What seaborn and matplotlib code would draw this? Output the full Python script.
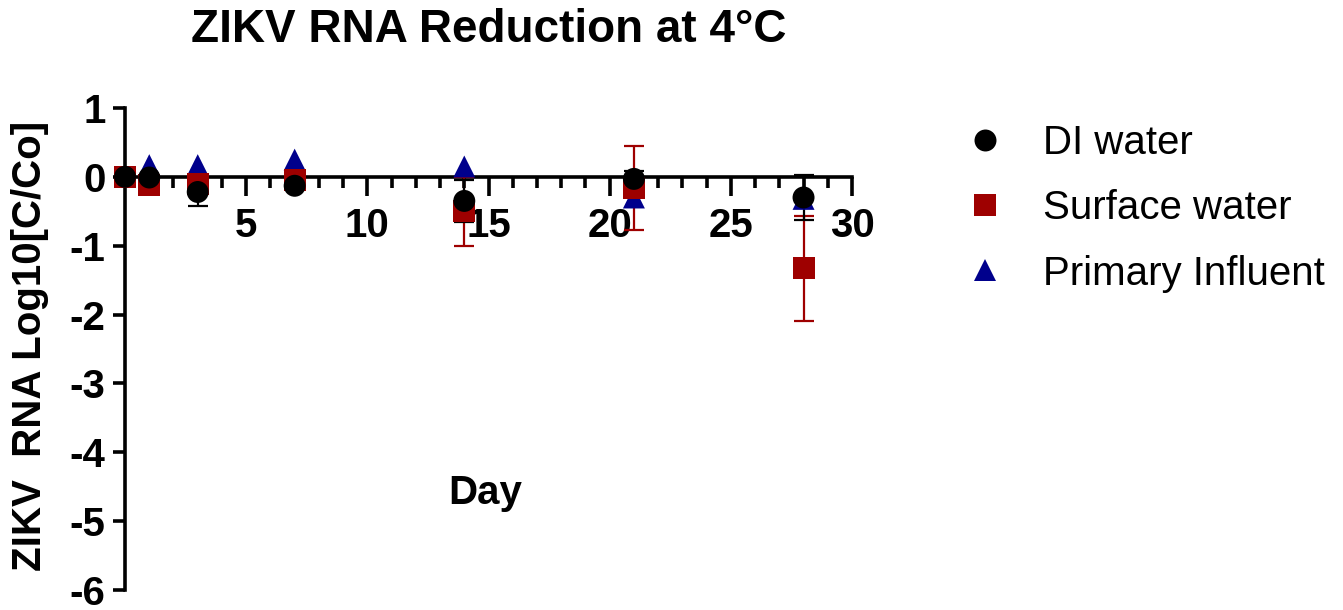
import matplotlib
matplotlib.use("Agg")
import matplotlib.pyplot as plt
import seaborn as sns
import pandas as pd

# ---- data ----
days = [0, 1, 3, 7, 14, 21, 28]
series_names = ["DI water", "Surface water", "Primary Influent"]

di_water = [0.0, -0.01, -0.22, -0.13, -0.35, -0.03, -0.30]
di_water_err = [0.0, 0.03, 0.20, 0.05, 0.30, 0.12, 0.33]

surface_water = [0.0, -0.12, -0.10, -0.05, -0.50, -0.16, -1.33]
surface_water_err = [0.0, 0.03, 0.05, 0.05, 0.50, 0.61, 0.76]

primary_influent = [0.0, 0.17, 0.17, 0.25, 0.15, -0.30, -0.32]
primary_influent_err = [0.0, 0.0, 0.0, 0.0, 0.0, 0.0, 0.0]

x_major_ticks = [5, 10, 15, 20, 25, 30]
y_ticks = [1, 0, -1, -2, -3, -4, -5, -6]

title = "ZIKV RNA Reduction at 4°C"
x_label = "Day"
y_label = "ZIKV  RNA Log10[C/Co]"

colors = {"DI water": "#000000", "Surface water": "#9E0000", "Primary Influent": "#00008C"}
markers = {"DI water": "o", "Surface water": "s", "Primary Influent": "^"}

# ---- styling ----
sns.set_style("ticks")
plt.rcParams["font.family"] = ["Liberation Sans", "DejaVu Sans"]
plt.rcParams["axes.unicode_minus"] = False
for key in ["text.color", "axes.labelcolor", "xtick.color", "ytick.color", "axes.edgecolor"]:
    plt.rcParams[key] = "black"

values = {"DI water": (di_water, di_water_err),
          "Surface water": (surface_water, surface_water_err),
          "Primary Influent": (primary_influent, primary_influent_err)}

# draw order: triangles below squares below circles
draw_order = ["Primary Influent", "Surface water", "DI water"]
rows = []
for name in draw_order:
    v, e = values[name]
    for d, y in zip(days, v):
        rows.append({"Day": d, "value": y, "series": name})
df = pd.DataFrame(rows)

fig = plt.figure(figsize=(13.43, 6.10), dpi=100)
ax = fig.add_axes([0.0931, 0.0328, 0.5413, 0.7902])

FS = 29
lw = 2.6

# error bars
for name in draw_order:
    v, e = values[name]
    if any(err > 0 for err in e):
        ax.errorbar(days, v, yerr=e, fmt="none", ecolor=colors[name],
                    elinewidth=1.6, capsize=7, capthick=1.6, zorder=3, clip_on=False)

sns.scatterplot(data=df, x="Day", y="value", hue="series", style="series",
                hue_order=series_names, style_order=series_names,
                palette=colors, markers=markers, s=250, linewidth=0,
                ax=ax, zorder=4, clip_on=False)

ax.set_xlim(0, 30)
ax.set_ylim(-6, 1)

ax.spines["top"].set_visible(False)
ax.spines["right"].set_visible(False)
ax.spines["bottom"].set_position(("data", 0))
for s in ["left", "bottom"]:
    ax.spines[s].set_linewidth(lw)
    ax.spines[s].set_color("black")
    ax.spines[s].set_zorder(2.5)

ax.set_xticks(x_major_ticks)
ax.set_xticks([i for i in range(1, 30) if i % 5 != 0], minor=True)
ax.set_yticks(y_ticks)
ax.tick_params(axis="x", which="major", direction="out", length=14, width=lw, pad=8,
               labelsize=FS, colors="black")
ax.tick_params(axis="x", which="minor", direction="out", length=8, width=lw, colors="black")
ax.tick_params(axis="y", which="major", direction="out", length=9, width=lw, pad=5,
               labelsize=FS, colors="black")
for lab in ax.get_xticklabels() + ax.get_yticklabels():
    lab.set_fontweight("bold")

ax.set_xlabel(x_label, fontsize=FS, fontweight="bold", va="center", color="black")
ax.xaxis.set_label_coords(0.495, 0.201)
ax.set_ylabel(y_label, fontsize=FS, fontweight="bold", va="center", color="black")
ax.yaxis.set_label_coords(-0.131, 0.506)

ax.set_title(title, fontsize=33, fontweight="bold", y=1.162, va="center", pad=0,
             color="black")

sns.move_legend(ax, "upper left", bbox_to_anchor=(0.7185, 0.7965),
                bbox_transform=fig.transFigure, title=None, frameon=False,
                fontsize=FS, handlelength=1.0, handletextpad=0.95,
                labelspacing=0.675, borderpad=0, borderaxespad=0)
for t in ax.get_legend().get_texts():
    t.set_color("black")

fig.savefig("out.png", dpi=100)
